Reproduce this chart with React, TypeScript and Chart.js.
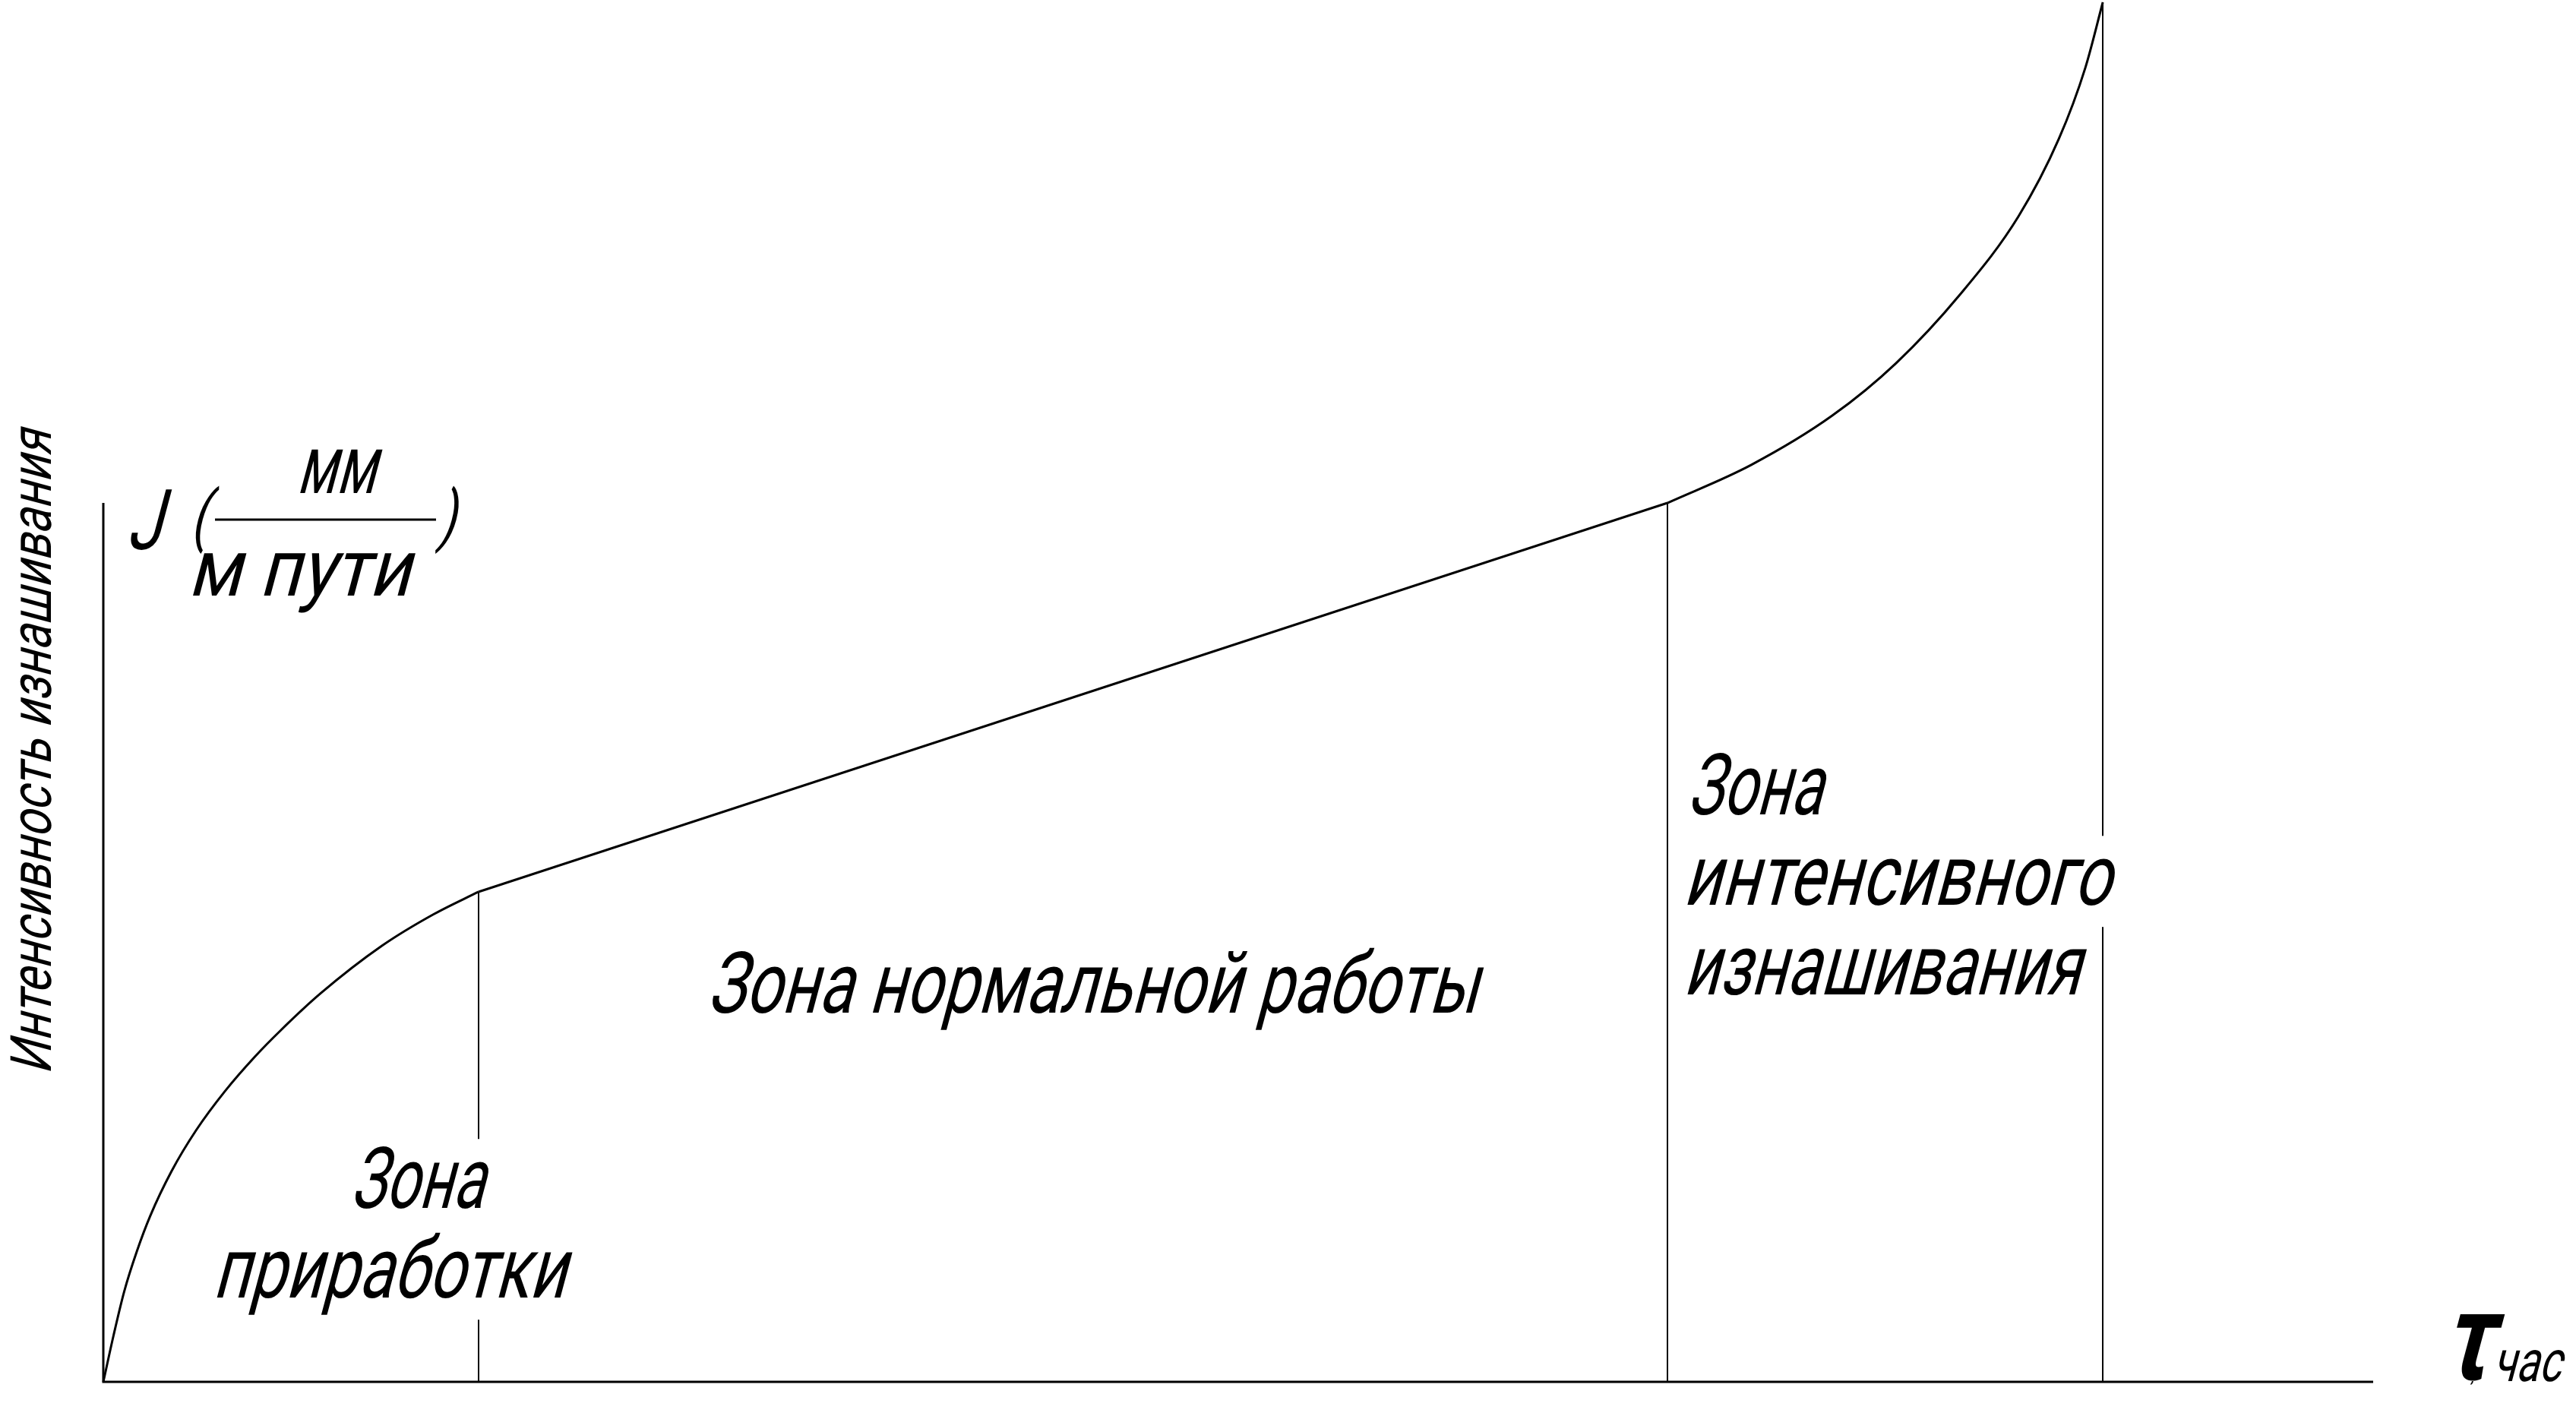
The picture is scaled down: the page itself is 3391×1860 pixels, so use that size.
import { useEffect, useRef } from 'react';
import { Chart, registerables } from 'chart.js';

Chart.register(...registerables);

// Wear intensity J versus operating time τ (relative units: τ 0..100, J 0..100)

// Zone 1 – running-in (приработка)
const RUN_IN_T = [0, 0.45, 0.92, 1.48, 2.07, 3.01, 4.09, 5.36, 6.7, 7.81, 9.56, 12.26, 14.55, 16.53];
const RUN_IN_J = [0, 3.36, 6.55, 9.47, 12.04, 15.28, 18.24, 21.07, 23.61, 25.47, 28.14, 31.59, 33.89, 35.52];

// Zone 2 – normal operation (linear growth)
const NORMAL_T = [16.53, 68.91];
const NORMAL_J = [35.52, 63.71];

// Zone 3 – intensive wear
const WEAR_T = [68.91, 72.59, 76.17, 78.98, 81.79, 84.37, 86.15, 87.32, 88.09];
const WEAR_J = [63.71, 66.46, 70.04, 73.84, 78.8, 84.47, 90.09, 95.26, 100];

// Axis extents
const T_AXIS_END = 100;
const J_AXIS_TOP = 63.71;

// Zone captions: text, left/right edge in τ, baseline in J
const ZONE_LABEL_TEXT = ['Зона', 'приработки', 'Зона нормальной работы', 'Зона', 'интенсивного', 'изнашивания'];
const ZONE_LABEL_T0 = [10.94, 4.99, 26.67, 69.85, 69.78, 69.78];
const ZONE_LABEL_T1 = [17.37, 20.92, 61.08, 76.31, 88.86, 87.42];
const ZONE_LABEL_J = [12.61, 6.11, 26.76, 41.13, 34.58, 28.08];

const Y_TITLE = 'Интенсивность изнашивания';
const J_SYMBOL = 'J';
const J_UNIT_TOP = 'мм';
const J_UNIT_BOTTOM = 'м пути';
const T_SYMBOL = 'τ';
const T_UNIT = 'час';

const W = 3391;
const H = 1860;
const INK = '#000';
const FAMILY = "Roboto, 'DejaVu Sans', sans-serif";
const WEIGHT = 400;
const SLANT = Math.tan((15 * Math.PI) / 180);
const LABEL_CAP = 81;

type Ctx = CanvasRenderingContext2D;

// Slanted, horizontally fitted text: ink starts at `left`, spans `width`.
function drawText(ctx: Ctx, text: string, left: number, baseline: number, refH: number, width: number, ref = 'Н') {
  ctx.font = `${WEIGHT} 100px ${FAMILY}`;
  const a = ctx.measureText(ref).actualBoundingBoxAscent || 71;
  const size = (100 * refH) / a;
  ctx.font = `${WEIGHT} ${size}px ${FAMILY}`;
  const m = ctx.measureText(text);
  const inkW = m.actualBoundingBoxLeft + m.actualBoundingBoxRight;
  const hs = (width - SLANT * m.actualBoundingBoxAscent) / inkW;
  ctx.save();
  ctx.translate(left, baseline);
  ctx.transform(hs, 0, -SLANT, 1, 0, 0);
  ctx.textBaseline = 'alphabetic';
  ctx.textAlign = 'left';
  ctx.fillText(text, m.actualBoundingBoxLeft, 0);
  ctx.restore();
}

// Single glyph stretched into a box (slant included).
function drawGlyphBox(ctx: Ctx, glyph: string, left: number, top: number, width: number, height: number, weight = WEIGHT) {
  ctx.font = `${weight} 100px ${FAMILY}`;
  let m = ctx.measureText(glyph);
  const size = (100 * height) / (m.actualBoundingBoxAscent + m.actualBoundingBoxDescent);
  ctx.font = `${weight} ${size}px ${FAMILY}`;
  m = ctx.measureText(glyph);
  const inkW = m.actualBoundingBoxLeft + m.actualBoundingBoxRight;
  const hs = Math.max((width - SLANT * height) / inkW, 0.75);
  ctx.save();
  ctx.translate(left + SLANT * m.actualBoundingBoxDescent, top + m.actualBoundingBoxAscent);
  ctx.transform(hs, 0, -SLANT, 1, 0, 0);
  ctx.textBaseline = 'alphabetic';
  ctx.textAlign = 'left';
  ctx.fillText(glyph, m.actualBoundingBoxLeft, 0);
  ctx.restore();
}

const wearAnnotations = {
  id: 'wearAnnotations',
  afterDatasetsDraw(chart: any) {
    const { ctx, scales } = chart;
    const X = (v: number) => scales.x.getPixelForValue(v);
    const Y = (v: number) => scales.y.getPixelForValue(v);
    ctx.save();
    ctx.strokeStyle = INK;
    ctx.fillStyle = INK;

    // axes
    ctx.lineWidth = 3;
    ctx.lineJoin = 'miter';
    ctx.beginPath();
    ctx.moveTo(X(0), Y(J_AXIS_TOP));
    ctx.lineTo(X(0), Y(0));
    ctx.lineTo(X(T_AXIS_END), Y(0));
    ctx.stroke();

    // zone boundaries
    const bT = [RUN_IN_T[RUN_IN_T.length - 1], NORMAL_T[NORMAL_T.length - 1], WEAR_T[WEAR_T.length - 1]];
    const bJ = [RUN_IN_J[RUN_IN_J.length - 1], NORMAL_J[NORMAL_J.length - 1], WEAR_J[WEAR_J.length - 1]];
    ctx.lineWidth = 2;
    ctx.beginPath();
    bT.forEach((t, i) => {
      const px = Math.round(X(t));
      ctx.moveTo(px, Y(bJ[i]));
      ctx.lineTo(px, Y(0));
    });
    ctx.stroke();

    // zone captions (each clears its own backdrop)
    ZONE_LABEL_TEXT.forEach((text, i) => {
      const left = X(ZONE_LABEL_T0[i]);
      const right = X(ZONE_LABEL_T1[i]);
      const base = Y(ZONE_LABEL_J[i]);
      ctx.fillStyle = '#fff';
      ctx.fillRect(left - 6, base - 1.12 * LABEL_CAP, right - left + 12, 1.48 * LABEL_CAP);
      ctx.fillStyle = INK;
      drawText(ctx, text, left, base, LABEL_CAP, right - left);
    });

    // vertical axis title
    const x0 = X(0);
    const y0 = Y(0);
    ctx.save();
    ctx.translate(x0 - 69, y0 - 409);
    ctx.rotate(-Math.PI / 2);
    drawText(ctx, Y_TITLE, 0, 0, 54, 853);
    ctx.restore();

    // J (мм / м пути)
    const yt = Y(J_AXIS_TOP);
    drawGlyphBox(ctx, J_SYMBOL, x0 + 31, yt - 19, 52, 81);
    drawGlyphBox(ctx, '(', x0 + 112, yt - 24, 34, 91);
    drawGlyphBox(ctx, ')', x0 + 435, yt - 24, 34, 91);
    drawText(ctx, J_UNIT_TOP, x0 + 259, yt - 13, 78, 109);
    drawText(ctx, J_UNIT_BOTTOM, x0 + 118, yt + 122, 76, 293);
    ctx.lineWidth = 3;
    ctx.beginPath();
    ctx.moveTo(x0 + 147, yt + 22);
    ctx.lineTo(x0 + 438, yt + 22);
    ctx.stroke();

    // τ, час
    const xe = X(T_AXIS_END);
    drawGlyphBox(ctx, T_SYMBOL, xe + 91, y0 - 89, 57, 88, 700);
    drawText(ctx, ',', xe + 128, y0 + 1, 14, 4);
    drawText(ctx, T_UNIT, xe + 159, y0 - 1, 55, 97);

    ctx.restore();
  },
};

const pts = (t: number[], j: number[]) => t.map((v, i) => ({ x: v, y: j[i] }));

export default function App() {
  const canvasRef = useRef<HTMLCanvasElement>(null);

  useEffect(() => {
    const canvas = canvasRef.current;
    if (!canvas) return;
    const line = { borderColor: INK, borderWidth: 3, pointRadius: 0, fill: false, clip: false as any };
    const chart = new Chart(canvas, {
      type: 'line',
      data: {
        datasets: [
          { ...line, data: pts(RUN_IN_T, RUN_IN_J), cubicInterpolationMode: 'monotone' },
          { ...line, data: pts(NORMAL_T, NORMAL_J), tension: 0 },
          { ...line, data: pts(WEAR_T, WEAR_J), cubicInterpolationMode: 'monotone' },
        ] as any,
      },
      options: {
        responsive: false,
        animation: false,
        devicePixelRatio: 1,
        events: [],
        layout: { padding: { left: 136, right: 267, top: 3, bottom: 41 } },
        scales: {
          x: { type: 'linear', min: 0, max: T_AXIS_END, display: false },
          y: { type: 'linear', min: 0, max: 100, display: false },
        },
        plugins: { legend: { display: false }, tooltip: { enabled: false } },
      },
      plugins: [wearAnnotations],
    });
    return () => chart.destroy();
  }, []);

  return (
    <div style={{ position: 'fixed', left: 0, top: 0, width: W, height: H, background: '#fff' }}>
      <canvas ref={canvasRef} width={W} height={H} style={{ display: 'block', width: W, height: H }} />
    </div>
  );
}
